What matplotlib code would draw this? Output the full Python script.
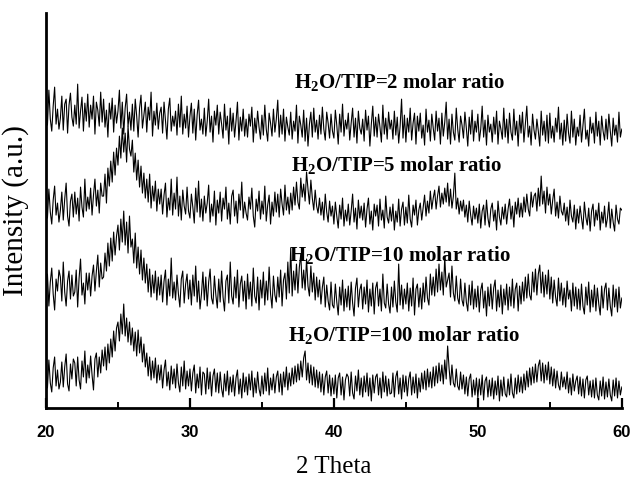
import numpy as np
import matplotlib
matplotlib.use("Agg")
import matplotlib.pyplot as plt

# --- data ------------------------------------------------------------------
# 2 theta grid: 20 -> 60 deg, 0.1 deg step (401 points)
two_theta = np.round(np.arange(200, 601) * 0.1, 1)

# intensities (a.u., offset stacked)
ratio_2 = [
    306, 283, 318, 289, 277, 302, 321, 284, 299, 279,
    290, 312, 278, 304, 309, 275, 303, 315, 291, 282,
    303, 284, 324, 280, 297, 311, 277, 305, 287, 314,
    281, 303, 289, 312, 274, 306, 298, 282, 316, 286,
    309, 281, 298, 271, 305, 289, 310, 276, 303, 285,
    297, 318, 280, 306, 274, 300, 314, 282, 296, 278,
    304, 277, 309, 292, 271, 300, 313, 280, 293, 306,
    276, 301, 288, 316, 272, 297, 283, 305, 279, 295,
    301, 275, 306, 287, 269, 299, 310, 277, 292, 282,
    297, 273, 304, 281, 312, 274, 294, 280, 302, 271,
    292, 305, 275, 299, 268, 293, 308, 278, 289, 274,
    300, 272, 287, 309, 276, 292, 266, 297, 283, 303,
    274, 296, 284, 270, 304, 278, 292, 264, 300, 277,
    295, 271, 287, 306, 268, 291, 277, 299, 272, 289,
    271, 294, 282, 301, 266, 290, 275, 297, 281, 269,
    293, 273, 303, 279, 267, 295, 285, 272, 299, 276,
    289, 308, 271, 293, 274, 299, 267, 291, 281, 273,
    296, 269, 287, 277, 303, 265, 292, 283, 271, 298,
    267, 290, 262, 284, 296, 271, 300, 276, 288, 269,
    293, 274, 301, 279, 268, 296, 285, 270, 294, 277,
    270, 298, 283, 264, 294, 276, 304, 272, 288, 279,
    295, 268, 285, 300, 271, 290, 265, 297, 280, 274,
    289, 267, 298, 278, 292, 262, 284, 302, 272, 291,
    271, 294, 281, 266, 303, 274, 290, 269, 296, 279,
    288, 269, 297, 273, 291, 265, 282, 309, 270, 293,
    266, 290, 276, 300, 268, 285, 295, 264, 292, 277,
    295, 270, 283, 263, 299, 276, 288, 267, 294, 280,
    268, 297, 277, 290, 264, 295, 272, 286, 306, 269,
    289, 264, 294, 276, 268, 300, 279, 266, 292, 283,
    270, 296, 280, 262, 291, 274, 298, 267, 287, 276,
    294, 267, 279, 302, 271, 288, 263, 293, 276, 284,
    266, 291, 274, 297, 264, 287, 279, 269, 300, 271,
    289, 265, 295, 276, 268, 299, 273, 287, 262, 293,
    275, 296, 266, 284, 302, 271, 282, 263, 294, 278,
    269, 289, 277, 262, 297, 273, 287, 267, 293, 265,
    295, 270, 282, 266, 290, 276, 301, 269, 285, 263,
    288, 267, 294, 275, 265, 297, 271, 289, 263, 281,
    272, 293, 266, 282, 299, 269, 278, 262, 291, 275,
    285, 265, 296, 272, 287, 263, 292, 277, 268, 289,
    269, 294, 277, 262, 290, 273, 283, 266, 296, 271,
    279,
]

ratio_5 = [
    212, 190, 219, 196, 184, 208, 222, 193, 205, 186,
    198, 216, 188, 209, 225, 192, 182, 207, 214, 191,
    216, 194, 210, 187, 221, 201, 191, 229, 197, 211,
    199, 220, 193, 213, 229, 202, 218, 195, 225, 212,
    212, 234, 205, 240, 222, 247, 226, 256, 233, 260,
    243, 272, 250, 280, 256, 275, 246, 282, 259, 252,
    268, 236, 255, 228, 248, 221, 242, 215, 235, 210,
    229, 206, 234, 200, 222, 207, 227, 197, 219, 204,
    219, 194, 213, 225, 191, 210, 198, 229, 193, 215,
    199, 231, 192, 212, 188, 218, 202, 194, 221, 197,
    190, 214, 201, 185, 220, 196, 227, 191, 209, 187,
    212, 195, 205, 223, 186, 204, 192, 217, 183, 208,
    195, 216, 187, 210, 199, 221, 189, 205, 184, 212,
    218, 192, 207, 185, 214, 198, 226, 190, 206, 195,
    188, 211, 199, 220, 192, 181, 209, 197, 217, 189,
    207, 194, 222, 187, 203, 213, 184, 206, 192, 216,
    196, 214, 191, 219, 204, 193, 223, 198, 211, 194,
    215, 198, 221, 203, 226, 206, 199, 230, 211, 224,
    207, 236, 219, 204, 228, 210, 198, 218, 202, 195,
    210, 193, 206, 188, 214, 196, 186, 207, 192, 202,
    184, 206, 192, 180, 203, 189, 210, 182, 198, 187,
    204, 183, 197, 214, 186, 200, 179, 208, 190, 202,
    188, 205, 181, 199, 210, 184, 197, 178, 204, 192,
    203, 182, 209, 188, 198, 180, 212, 191, 185, 201,
    187, 204, 178, 197, 186, 209, 182, 199, 206, 183,
    201, 185, 213, 189, 181, 203, 193, 208, 183, 198,
    205, 188, 201, 213, 192, 207, 195, 217, 199, 210,
    218, 199, 212, 222, 201, 215, 204, 220, 206, 225,
    202, 219, 200, 212, 235, 199, 210, 194, 207, 197,
    208, 191, 203, 186, 207, 193, 183, 202, 189, 200,
    185, 204, 180, 197, 203, 183, 208, 190, 181, 199,
    205, 187, 198, 178, 207, 191, 183, 201, 189, 204,
    184, 199, 209, 189, 202, 181, 206, 194, 210, 191,
    205, 191, 211, 196, 214, 199, 192, 216, 201, 212,
    215, 197, 220, 202, 232, 204, 217, 195, 221, 203,
    214, 194, 208, 219, 192, 206, 190, 212, 197, 193,
    205, 187, 201, 183, 208, 192, 186, 203, 179, 199,
    185, 202, 190, 179, 206, 191, 183, 200, 177, 197,
    204, 182, 198, 188, 205, 178, 196, 185, 202, 181,
    190, 206, 180, 199, 186, 177, 203, 189, 184, 200,
    198,
]

ratio_10 = [
    111, 134, 102, 126, 140, 114, 98, 129, 117, 138,
    131, 107, 146, 116, 102, 127, 137, 109, 133, 112,
    116, 138, 101, 130, 149, 113, 125, 104, 135, 118,
    135, 112, 132, 143, 117, 137, 153, 121, 145, 129,
    131, 155, 137, 165, 142, 170, 147, 176, 153, 172,
    183, 158, 189, 166, 197, 163, 186, 155, 192, 161,
    169, 145, 175, 140, 161, 134, 158, 128, 150, 125,
    144, 116, 139, 111, 133, 115, 137, 108, 131, 113,
    133, 106, 127, 138, 103, 129, 112, 150, 110, 126,
    108, 133, 114, 101, 129, 137, 105, 124, 134, 109,
    128, 103, 133, 112, 142, 106, 127, 99, 114, 136,
    108, 131, 102, 126, 139, 110, 104, 132, 113, 100,
    129, 106, 137, 111, 97, 127, 133, 105, 146, 112,
    104, 131, 110, 138, 101, 124, 132, 107, 127, 99,
    134, 109, 126, 102, 140, 112, 105, 131, 98, 128,
    110, 136, 103, 127, 108, 141, 114, 100, 132, 113,
    106, 131, 111, 138, 102, 128, 135, 109, 146, 115,
    160, 112, 137, 118, 144, 115, 141, 154, 120, 138,
    118, 149, 122, 112, 142, 116, 135, 108, 131, 111,
    128, 104, 121, 131, 101, 123, 107, 98, 126, 103,
    100, 124, 106, 93, 121, 103, 128, 97, 119, 101,
    122, 98, 126, 105, 92, 120, 130, 101, 118, 124,
    99, 121, 104, 128, 96, 119, 102, 125, 94, 120,
    126, 102, 119, 97, 134, 105, 100, 124, 104, 95,
    121, 101, 127, 106, 96, 144, 103, 123, 99, 119,
    104, 125, 97, 120, 102, 130, 93, 119, 124, 101,
    120, 99, 125, 106, 131, 110, 103, 134, 113, 131,
    112, 139, 116, 144, 118, 136, 113, 151, 121, 128,
    135, 111, 142, 115, 107, 132, 110, 104, 129, 108,
    102, 125, 106, 97, 123, 103, 127, 99, 119, 101,
    122, 96, 118, 125, 100, 117, 92, 121, 102, 124,
    99, 120, 128, 97, 118, 101, 123, 94, 119, 103,
    124, 98, 121, 102, 129, 100, 119, 125, 97, 122,
    104, 126, 107, 131, 110, 134, 113, 108, 136, 116,
    139, 113, 134, 143, 115, 136, 111, 133, 114, 138,
    109, 131, 105, 128, 111, 102, 130, 107, 125, 103,
    120, 101, 127, 109, 118, 97, 125, 102, 121, 99,
    119, 98, 124, 102, 94, 121, 103, 126, 96, 118,
    101, 123, 97, 120, 104, 93, 122, 100, 119, 125,
    98, 120, 102, 92, 123, 101, 119, 96, 121, 100,
    110,
]

ratio_100 = [
    43, 20, 48, 25, 16, 40, 51, 22, 38, 19,
    26, 46, 21, 41, 54, 24, 17, 44, 29, 49,
    45, 22, 51, 28, 19, 47, 31, 57, 25, 43,
    30, 52, 33, 18, 49, 55, 31, 51, 35, 58,
    42, 61, 38, 64, 45, 69, 51, 77, 57, 80,
    86, 67, 94, 74, 104, 72, 90, 66, 86, 63,
    80, 57, 76, 52, 78, 55, 71, 46, 64, 41,
    55, 32, 51, 28, 47, 30, 50, 25, 43, 28,
    43, 20, 38, 48, 22, 36, 18, 42, 24, 39,
    20, 44, 25, 16, 41, 22, 47, 19, 37, 22,
    39, 17, 35, 43, 15, 34, 20, 41, 13, 36,
    34, 14, 40, 19, 36, 12, 32, 39, 16, 35,
    15, 36, 19, 11, 34, 17, 37, 13, 31, 16,
    33, 12, 30, 38, 14, 29, 10, 35, 16, 31,
    13, 34, 18, 37, 11, 30, 15, 36, 19, 12,
    32, 14, 35, 17, 40, 13, 30, 18, 34, 15,
    31, 37, 16, 34, 13, 36, 21, 41, 18, 35,
    22, 40, 24, 42, 26, 44, 28, 47, 31, 50,
    57, 28, 45, 25, 43, 23, 41, 21, 38, 20,
    36, 16, 34, 13, 31, 37, 15, 33, 12, 30,
    14, 33, 10, 30, 35, 13, 31, 8, 28, 34,
    31, 12, 36, 15, 9, 32, 17, 38, 13, 30,
    11, 32, 16, 35, 12, 30, 7, 33, 15, 31,
    34, 13, 30, 10, 36, 16, 32, 12, 29, 14,
    15, 35, 11, 31, 37, 14, 30, 9, 33, 16,
    32, 12, 29, 36, 13, 31, 15, 34, 10, 30,
    16, 35, 19, 37, 18, 39, 21, 36, 20, 41,
    22, 42, 25, 45, 27, 43, 24, 48, 29, 62,
    40, 23, 43, 25, 21, 39, 22, 18, 36, 19,
    33, 14, 31, 12, 29, 34, 11, 28, 13, 30,
    10, 29, 13, 33, 8, 27, 31, 11, 28, 12,
    30, 9, 27, 13, 32, 7, 28, 12, 31, 14,
    11, 29, 13, 34, 15, 10, 30, 14, 33, 16,
    31, 15, 34, 18, 37, 21, 40, 23, 41, 25,
    44, 26, 42, 48, 27, 45, 25, 43, 28, 46,
    24, 41, 22, 39, 20, 37, 23, 18, 36, 21,
    31, 19, 36, 15, 30, 13, 34, 17, 27, 32,
    14, 31, 12, 29, 10, 28, 32, 13, 27, 11,
    28, 10, 30, 13, 8, 27, 12, 31, 9, 26,
    11, 29, 13, 7, 28, 12, 30, 10, 27, 13,
    21,
]

series = [ratio_2, ratio_5, ratio_10, ratio_100]
labels = ["H$_2$O/TIP=2 molar ratio", "H$_2$O/TIP=5 molar ratio",
          "H$_2$O/TIP=10 molar ratio", "H$_2$O/TIP=100 molar ratio"]
label_x = [37.2, 37.0, 36.9, 36.8]
label_y = [320, 237, 147, 67]

# --- plot --------------------------------------------------------------------
plt.rcParams['mathtext.default'] = 'regular'

fig = plt.figure(figsize=(6.3, 4.88), dpi=100)
ax = fig.add_axes([0.073, 0.164, 0.914, 0.809])

for y in series:
    ax.plot(two_theta, y, color='black', lw=0.8)

for txt, x, y in zip(labels, label_x, label_y):
    ax.text(x, y, txt, ha='left', va='baseline', fontsize=15,
            fontweight='bold', family='Liberation Serif')

ax.set_xlim(20, 60)
ax.set_ylim(0, 395)
ax.set_xticks([20, 30, 40, 50, 60])
ax.set_xticks([25, 35, 45, 55], minor=True)
ax.set_yticks([])
ax.tick_params(axis='x', which='major', direction='in', length=7, width=1.6, pad=12)
ax.tick_params(axis='x', which='minor', direction='in', length=4, width=1.4)
for lab in ax.get_xticklabels():
    lab.set_fontfamily('Liberation Sans')
    lab.set_fontweight('bold')
    lab.set_fontsize(12)

for s in ['top', 'right']:
    ax.spines[s].set_visible(False)
for s in ['left', 'bottom']:
    ax.spines[s].set_linewidth(2)

ax.set_xlabel("2 Theta", family='Liberation Serif', fontsize=18, labelpad=12)
ax.set_ylabel("Intensity (a.u.)", family='Liberation Serif', fontsize=21)
ax.yaxis.set_label_coords(-0.03, 0.5)

fig.savefig("out.png", dpi=100)
